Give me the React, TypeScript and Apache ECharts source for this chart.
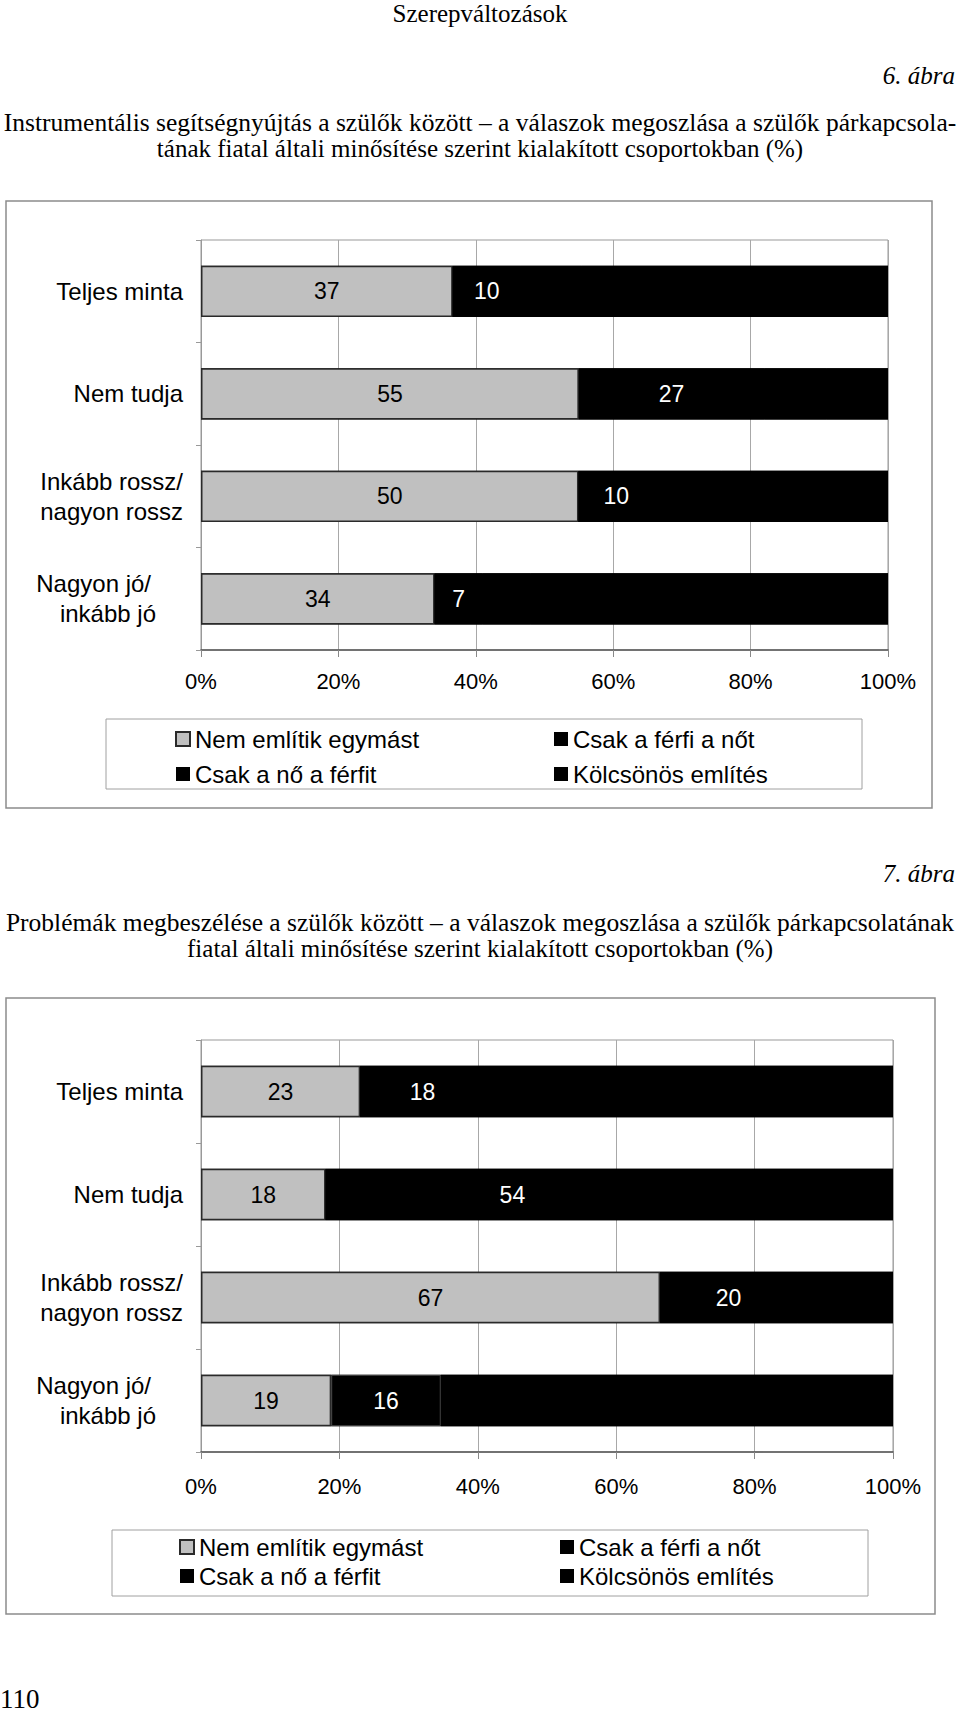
import React, { useEffect, useRef } from 'react';
import * as echarts from 'echarts';

// ---------- data ----------
const categories = ['Teljes minta', 'Nem tudja', 'Inkább rossz/\nnagyon rossz', 'Nagyon jó/\ninkább jó'];
const seriesNames = ['Nem említik egymást', 'Csak a férfi a nőt', 'Csak a nő a férfit', 'Kölcsönös említés'];

// 6. ábra – Instrumentális segítségnyújtás
const fig6Nem = [37, 55, 50, 34];
const fig6Ferfi = [10, 27, 10, 7];
const fig6No = [9, 9, 9, 7]; // hidden (black on black), estimated
const fig6Kolcsonos = [45, 9, 22, 52]; // hidden, estimated

// 7. ábra – Problémák megbeszélése
const fig7Nem = [23, 18, 67, 19];
const fig7Ferfi = [18, 54, 20, 16];
const fig7No = [11, 9, 5, 12]; // hidden, estimated
const fig7Kolcsonos = [48, 19, 9, 54]; // hidden, estimated

const pageHeader = 'Szerepváltozások';
const fig6Label = '6. ábra';
const fig6Title = [
  'Instrumentális segítségnyújtás a szülők között – a válaszok megoszlása a szülők párkapcsola-',
  'tának fiatal általi minősítése szerint kialakított csoportokban (%)',
];
const fig7Label = '7. ábra';
const fig7Title = [
  'Problémák megbeszélése a szülők között – a válaszok megoszlása a szülők párkapcsolatának',
  'fiatal általi minősítése szerint kialakított csoportokban (%)',
];
const pageNumber = '110';

// ---------- styles ----------
const SANS = "'Liberation Sans', Arial, Helvetica, sans-serif";
const SERIF = "'Liberation Serif', 'Times New Roman', serif";

function buildSeries(idx: number, arrays: number[][]) {
  const totals = categories.map((_, i) => arrays.reduce((s, a) => s + a[i], 0));
  // full-width black backing bar (the stacked 100% total) so that adjacent black
  // segments do not show anti-aliasing seams
  const backing = {
    name: 'total' + idx,
    type: 'bar',
    xAxisIndex: idx,
    yAxisIndex: idx,
    barWidth: '50%',
    barGap: '-100%',
    z: 1,
    silent: true,
    emphasis: { disabled: true },
    data: totals.map((t) => (t / t) * 100),
    itemStyle: { color: '#000' },
    label: { show: false },
  };
  const parts = arrays.map((arr, k) => ({
    name: seriesNames[k],
    type: 'bar',
    stack: 'fig' + idx,
    xAxisIndex: idx,
    yAxisIndex: idx,
    barWidth: '50%',
    barGap: '-100%',
    z: 2,
    emphasis: { disabled: true },
    data: arr.map((v, i) => {
      const item: any = { value: (v / totals[i]) * 100 };
      if (idx === 1 && k === 1 && i === 3) item.itemStyle = { borderColor: '#505050', borderWidth: 1 };
      return item;
    }),
    itemStyle:
      k === 0
        ? { color: '#c0c0c0', borderColor: '#2a2a2a', borderWidth: 1.5 }
        : { color: '#000000' },
    label:
      k < 2
        ? {
            show: true,
            position: 'inside',
            formatter: (p: any) => String(arr[p.dataIndex]),
            color: k === 0 ? '#000' : '#fff',
            fontSize: 23,
            fontFamily: SANS,
          }
        : { show: false },
  }));
  return [backing, ...parts];
}

function xAxisCfg(gridIndex: number, margin: number) {
  return {
    gridIndex,
    type: 'value',
    min: 0,
    max: 100,
    interval: 20,
    axisLine: { show: true, lineStyle: { color: '#555', width: 1.5 } },
    axisTick: { show: true, length: 7, lineStyle: { color: '#888' } },
    splitLine: { show: true, lineStyle: { color: '#a8a8a8', width: 1 } },
    axisLabel: { formatter: '{value}%', fontSize: 22, fontFamily: SANS, color: '#000', margin },
  };
}

function yAxisCfg(gridIndex: number) {
  return {
    gridIndex,
    type: 'category',
    data: categories,
    inverse: true,
    axisLine: { show: true, lineStyle: { color: '#999' } },
    axisTick: { show: true, length: 5, lineStyle: { color: '#999' } },
    splitLine: { show: false },
    axisLabel: {
      fontSize: 24,
      fontFamily: SANS,
      color: '#000',
      margin: 18,
      lineHeight: 30,
      formatter: (v: string) => {
        if (v !== categories[3]) return v;
        const [a, b] = v.split('\n');
        return `{a|${a}}\n{b|${b}}`;
      },
      rich: {
        a: { align: 'right', fontSize: 24, fontFamily: SANS, color: '#000', lineHeight: 30, padding: [0, 32, 0, 0] },
        b: { align: 'right', fontSize: 24, fontFamily: SANS, color: '#000', lineHeight: 30, padding: [0, 27, 0, 0] },
      },
    },
  };
}

function legendCfg(names: string[], left: number, top: number, gap: number) {
  return {
    data: names,
    orient: 'vertical',
    left,
    top,
    icon: 'rect',
    itemWidth: 14,
    itemHeight: 14,
    itemGap: gap,
    padding: 0,
    selectedMode: false,
    textStyle: { fontSize: 24, fontFamily: SANS, color: '#000', lineHeight: 24 },
  };
}

function txt(text: string, x: number, y: number, size: number, align: string, italic = false) {
  return {
    type: 'text',
    x,
    y,
    silent: true,
    style: {
      text,
      fontSize: size,
      fontFamily: SERIF,
      fontStyle: italic ? 'italic' : 'normal',
      fill: '#000',
      align,
      textAlign: align,
      verticalAlign: 'middle',
      textVerticalAlign: 'middle',
    },
  };
}

function box(x: number, y: number, w: number, h: number, color: string, lw: number) {
  return {
    type: 'rect',
    silent: true,
    shape: { x, y, width: w, height: h },
    style: { fill: 'transparent', stroke: color, lineWidth: lw },
    z: -1,
  };
}

const option: any = {
  animation: false,
  backgroundColor: '#fff',
  grid: [
    { left: 201, top: 240, width: 687, height: 410, show: true, borderColor: '#999', borderWidth: 1, backgroundColor: 'transparent' },
    { left: 201, top: 1040, width: 692, height: 412, show: true, borderColor: '#999', borderWidth: 1, backgroundColor: 'transparent' },
  ],
  xAxis: [xAxisCfg(0, 20), xAxisCfg(1, 23)],
  yAxis: [yAxisCfg(0), yAxisCfg(1)],
  legend: [
    legendCfg([seriesNames[0], seriesNames[2]], 175, 727, 11),
    legendCfg([seriesNames[1], seriesNames[3]], 554, 727, 11),
    legendCfg([seriesNames[0], seriesNames[2]], 179, 1535, 5),
    legendCfg([seriesNames[1], seriesNames[3]], 560, 1535, 5),
  ],
  series: [
    ...buildSeries(0, [fig6Nem, fig6Ferfi, fig6No, fig6Kolcsonos]),
    ...buildSeries(1, [fig7Nem, fig7Ferfi, fig7No, fig7Kolcsonos]),
  ],
  graphic: [
    txt(pageHeader, 480, 13, 25, 'center'),
    txt(fig6Label, 955, 75, 25, 'right', true),
    txt(fig6Title[0], 480, 122, 25.5, 'center'),
    txt(fig6Title[1], 480, 148, 25, 'center'),
    box(6, 201, 926, 607, '#8c8c8c', 1.5),
    box(106, 719, 756, 70, '#a0a0a0', 1),
    txt(fig7Label, 955, 873, 25, 'right', true),
    txt(fig7Title[0], 480, 922, 25.5, 'center'),
    txt(fig7Title[1], 480, 948, 25, 'center'),
    box(6, 998, 929, 616, '#8c8c8c', 1.5),
    box(112, 1530, 756, 66, '#a0a0a0', 1),
    txt(pageNumber, 0, 1699, 27, 'left'),
  ],
};

export default function App() {
  const ref = useRef<HTMLDivElement>(null);
  useEffect(() => {
    const chart = echarts.init(ref.current as HTMLDivElement, null, { renderer: 'svg' });
    chart.setOption(option);
    return () => chart.dispose();
  }, []);
  return (
    <div
      ref={ref}
      style={{ position: 'absolute', left: 0, top: 0, width: 960, height: 1714, background: '#fff' }}
    />
  );
}
